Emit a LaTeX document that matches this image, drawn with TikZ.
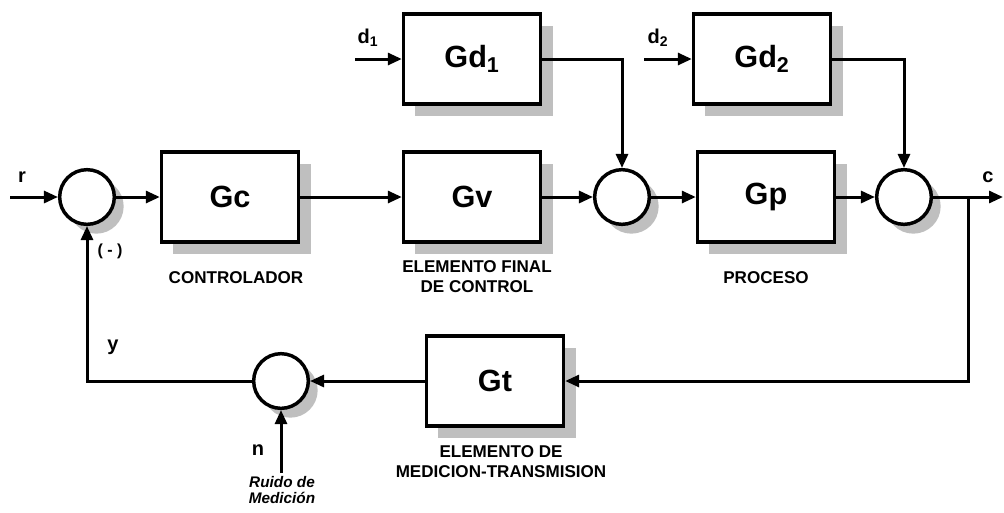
\documentclass[tikz,border=0pt]{standalone}
\usepackage{fontspec}
\setmainfont{Liberation Sans}
\usepackage{tikz}
\usetikzlibrary{arrows.meta,shadows}

\begin{document}
\begin{tikzpicture}[
    x=0.75pt, y=-0.75pt,
    every node/.style={font=\bfseries},
    blk/.style={draw=black, line width=2.3pt, rectangle, fill=white,
                minimum width=103pt, minimum height=67.5pt, inner sep=0pt,
                font=\fontsize{23}{26}\selectfont\bfseries,
                drop shadow={shadow xshift=9pt, shadow yshift=-9pt, fill=black!25, opacity=1}},
    sumnode/.style={draw=black, line width=2.6pt, circle, fill=white,
                    minimum size=41pt, inner sep=0pt,
                    drop shadow={shadow xshift=7pt, shadow yshift=-7pt, fill=black!25, opacity=1}},
    farrow/.style={-{Triangle[length=10.5pt,width=9pt]}, line width=2.25pt, color=black},
    sig/.style={font=\fontsize{15}{17}\selectfont\bfseries},
    lbl/.style={font=\fontsize{12.8}{15}\selectfont\bfseries, align=center},
    note/.style={font=\fontsize{11.5}{11.5}\selectfont\bfseries\itshape, align=center}
]
\useasboundingbox (0,0) rectangle (1004,512);

% --- Main loop blocks ---
\node[sumnode] (s1) at (87, 197) {};
\node[blk]     (gc) at (230, 197) {Gc};
\node[blk]     (gv) at (472, 197) {Gv};
\node[sumnode] (s2) at (622, 197) {};
\node[blk]     (gp) at (766, 197) {Gp};
\node[sumnode] (s3) at (904, 197) {};

% --- Disturbance blocks ---
\node[blk] (gd1) at (472, 59) {Gd\textsubscript{1}};
\node[blk] (gd2) at (762, 59) {Gd\textsubscript{2}};

% --- Feedback path ---
\node[blk]     (gt) at (495, 381) {Gt};
\node[sumnode] (s4) at (281, 381) {};

\coordinate (rin)  at (10, 197);
\coordinate (cout) at (1003, 197);
\coordinate (br)   at (968, 197);
\coordinate (d1in) at (355, 59);
\coordinate (d2in) at (644, 59);
\coordinate (nin)  at (281, 473);

% --- Forward signals ---
\draw[farrow] (rin) -- (s1.west);
\draw[farrow] (s1.east) -- (gc.west);
\draw[farrow] (gc.east) -- (gv.west);
\draw[farrow] (gv.east) -- (s2.west);
\draw[farrow] (s2.east) -- (gp.west);
\draw[farrow] (gp.east) -- (s3.west);
\draw[farrow] (s3.east) -- (cout);

\draw[farrow] (d1in) -- (gd1.west);
\draw[farrow] (gd1.east) -| (s2.north);
\draw[farrow] (d2in) -- (gd2.west);
\draw[farrow] (gd2.east) -| (s3.north);

% --- Return signals ---
\draw[farrow] (br) |- (gt.east);
\draw[farrow] (gt.west) -- (s4.east);
\draw[farrow] (s4.west) -| (s1.south);
\draw[farrow] (nin) -- (s4.south);

% --- Signal names ---
\node[sig] (lr)  at (22, 177)  {r};
\node[sig] (lc)  at (988, 177) {c};
\node[sig] (ly)  at (113, 347) {y};
\node[sig] (ln)  at (258, 450) {n};
\node[sig] (ld1) at (368, 38)  {d\textsubscript{1}};
\node[sig] (ld2) at (658, 38)  {d\textsubscript{2}};
\node[font=\fontsize{12}{14}\selectfont\bfseries] (lneg) at (110, 251) {( - )};

% --- Block captions ---
\node[lbl] (cctl)  at (236, 278) {CONTROLADOR};
\node[lbl] (cfin)  at (477, 277) {ELEMENTO FINAL\\DE CONTROL};
\node[lbl] (cproc) at (766, 278) {PROCESO};
\node[lbl] (cmed)  at (501, 462) {ELEMENTO DE\\MEDICION-TRANSMISION};
\node[note] (cnoise) at (282, 490) {Ruido de\\Medición};

\end{tikzpicture}
\end{document}
